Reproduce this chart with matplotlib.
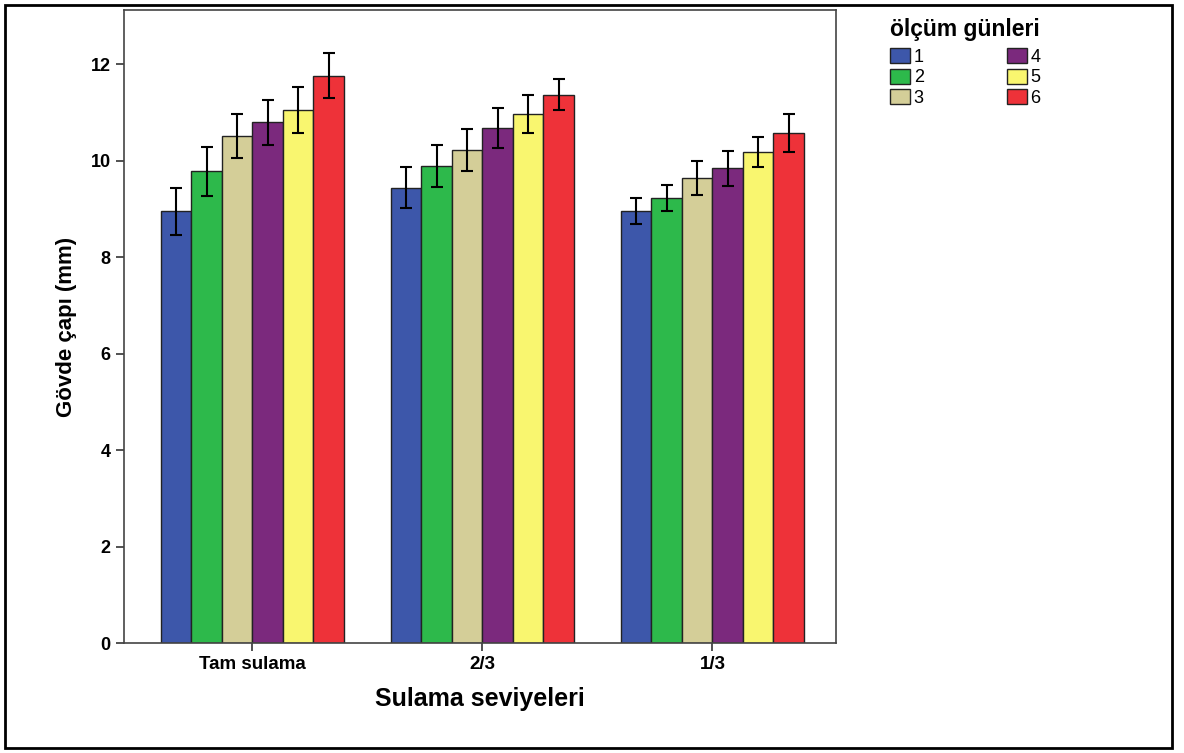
import matplotlib.pyplot as plt
import numpy as np
from matplotlib.patches import Rectangle

plt.rcParams['font.family'] = ['Liberation Sans', 'DejaVu Sans']

groups = ['Tam sulama', '2/3', '1/3']
days = ['1', '2', '3', '4', '5', '6']
colors = ['#3D57AA', '#2DB94B', '#D4CE98', '#7B297D', '#F9F66F', '#EE3239']

# mean stem diameter per day, per irrigation level
means = [
    [8.95, 9.78, 10.51, 10.79, 11.05, 11.76],
    [9.44, 9.89, 10.22, 10.68, 10.96, 11.36],
    [8.96, 9.22, 9.64, 9.84, 10.18, 10.57],
]
# error bar half-widths
errs = [
    [0.49, 0.51, 0.46, 0.46, 0.48, 0.47],
    [0.43, 0.43, 0.43, 0.41, 0.39, 0.32],
    [0.27, 0.27, 0.35, 0.36, 0.31, 0.39],
]

fig = plt.figure(figsize=(11.84, 7.53), dpi=100)
ax = fig.add_axes([124 / 1184, 1 - 643 / 753, 712 / 1184, 633 / 753])

x = np.arange(len(groups))
w = 0.1326
for i, d in enumerate(days):
    vals = [m[i] for m in means]
    e = [er[i] for er in errs]
    ax.bar(x + (i - 2.5) * w, vals, w, color=colors[i], edgecolor='#222222',
           linewidth=1.0, label=d,
           yerr=e, capsize=4,
           error_kw=dict(ecolor='black', elinewidth=1.5, capthick=1.5))

ax.set_xlim(-0.558, 2.537)
ax.set_ylim(0, 13.12)
ax.set_xticks(x)
ax.set_xticklabels(groups, fontsize=13.5, fontweight='bold')
ax.set_yticks(range(0, 13, 2))
ax.set_yticklabels([str(v) for v in range(0, 13, 2)], fontsize=13, fontweight='bold')
ax.tick_params(direction='out', length=6, width=1.2, colors='#333333', labelcolor='black')
for s in ax.spines.values():
    s.set_linewidth(1.2)
    s.set_color('#444444')

ax.set_xlabel('Sulama seviyeleri', fontsize=18, fontweight='bold', labelpad=10)
ax.set_ylabel('Gövde çapı (mm)', fontsize=16, fontweight='bold', labelpad=10)

leg = fig.legend(loc='upper left', bbox_to_anchor=(874 / 1184, 1 - 2 / 753),
                 ncol=2, frameon=False, fontsize=13, title='ölçüm günleri',
                 title_fontproperties={'weight': 'bold', 'size': 16.5},
                 handlelength=1.1, handleheight=0.9, handletextpad=0.2,
                 columnspacing=4.6, labelspacing=0.15)
leg._legend_box.align = 'left'
leg._legend_box.sep = 5  # a bit more room under the title

fig.patches.append(Rectangle((5 / 1184, 5 / 753), 1167 / 1184, 743 / 753,
                             transform=fig.transFigure, fill=False,
                             edgecolor='black', linewidth=2))

fig.savefig('out.png', dpi=100)
